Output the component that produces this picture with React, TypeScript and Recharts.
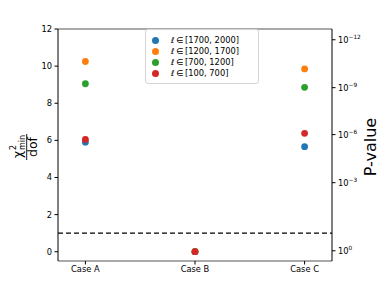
import React from 'react';
import { ScatterChart, Scatter, XAxis, YAxis, ReferenceLine, Legend } from 'recharts';

const cases = ['Case A', 'Case B', 'Case C'];
const seriesLabels = ['[1700, 2000]', '[1200, 1700]', '[700, 1200]', '[100, 700]'];
const seriesColors = ['#1f77b4', '#ff7f0e', '#2ca02c', '#d62728'];
const ell1700to2000 = [5.9, 0, 5.66];
const ell1200to1700 = [10.25, 0, 9.85];
const ell700to1200 = [9.05, 0, 8.86];
const ell100to700 = [6.05, 0, 6.38];
const seriesValues = [ell1700to2000, ell1200to1700, ell700to1200, ell100to700];
const chiTicks = [0, 2, 4, 6, 8, 10, 12];
const pTickPositions = [0.05, 3.72, 6.31, 8.84, 11.42];
const pTickExponents = [0, -3, -6, -9, -12];
const threshold = 1;

const FONT = '"DejaVu Sans", sans-serif';
const FS = 8.3;

const series = seriesValues.map((vals) => vals.map((v, i) => ({ x: i, y: v, name: cases[i] })));

const Dot = (props: any) => {
  const { cx, cy, fill } = props;
  if (cx == null || cy == null) return null;
  return <circle cx={cx} cy={cy} r={3.4} fill={fill} />;
};

const PTick = (props: any) => {
  const { x, y, payload } = props;
  const i = pTickPositions.indexOf(payload.value);
  const exp = pTickExponents[i];
  const expText = exp === 0 ? '0' : '\u2212' + Math.abs(exp);
  return (
    <text x={x} y={y} dy="0.35em" fontSize={FS} fill="#000" fontFamily={FONT} textAnchor="start">
      <tspan>10</tspan>
      <tspan dy={-3.6} fontSize={5.8}>{expText}</tspan>
    </text>
  );
};

const YLabel = (props: any) => {
  const vb = props.viewBox || { x: 18, y: 29, width: 40, height: 232 };
  const cx = vb.x + 8.7;
  const cy = vb.y + vb.height / 2 + 2;
  return (
    <g transform={`translate(${cx},${cy}) rotate(-90)`} fontFamily={FONT} fill="#000">
      <text x={-11} y={-5} fontSize={12.5}>χ</text>
      <text x={-3} y={-10.5} fontSize={8}>2</text>
      <text x={-3} y={-2.2} fontSize={8}>min</text>
      <line x1={-13} x2={13} y1={0} y2={0} stroke="#000" strokeWidth={0.9} />
      <text x={0} y={10.5} fontSize={12.5} textAnchor="middle">dof</text>
    </g>
  );
};

const PLabel = (props: any) => {
  const vb = props.viewBox || { x: 332, y: 29, width: 40, height: 232 };
  const cx = vb.x + 38.5;
  const cy = vb.y + vb.height / 2 + 2;
  return (
    <text
      x={cx}
      y={cy}
      transform={`rotate(-90, ${cx}, ${cy})`}
      textAnchor="middle"
      dominantBaseline="central"
      fontSize={16}
      fontFamily={FONT}
      fill="#000"
    >
      P-value
    </text>
  );
};

const LegendBox = () => (
  <div
    style={{
      border: '1px solid #d4d4d4',
      borderRadius: 3,
      background: 'rgba(255,255,255,0.8)',
      padding: '4.5px 6px 4.5px 5.5px',
      fontFamily: FONT,
      fontSize: FS,
      width: 100,
      color: '#000',
    }}
  >
    {seriesLabels.map((l, i) => (
      <div key={l} style={{ display: 'flex', alignItems: 'center', height: 11, whiteSpace: 'nowrap' }}>
        <span
          style={{
            display: 'inline-block',
            width: 7,
            height: 7,
            borderRadius: '50%',
            background: seriesColors[i],
            marginRight: 12.5,
            flexShrink: 0,
          }}
        />
        <span>
          <i>ℓ</i>{'\u2009∈\u2009'}{l}
        </span>
      </div>
    ))}
  </div>
);

export default function App() {
  return (
    <div style={{ position: 'absolute', left: 0, top: 0, width: 390, height: 290, background: '#fff' }}>
      <ScatterChart width={390} height={290} margin={{ top: 29, right: 18, bottom: 9, left: 18 }}>
        <XAxis
          type="number"
          dataKey="x"
          domain={[-0.25, 2.25]}
          ticks={[0, 1, 2]}
          tickFormatter={(v: number) => cases[v]}
          allowDataOverflow
          height={20}
          axisLine={{ stroke: '#8c8c8c', strokeWidth: 1.5 }}
          tickLine={{ stroke: '#000' }}
          tickSize={3.5}
          tickMargin={2}
          tick={{ fontSize: FS, fill: '#000', fontFamily: FONT }}
        />
        <YAxis
          yAxisId="left"
          type="number"
          dataKey="y"
          domain={[-0.5, 12]}
          ticks={chiTicks}
          allowDataOverflow
          width={40}
          axisLine={{ stroke: '#000', strokeWidth: 1 }}
          tickLine={{ stroke: '#000' }}
          tickSize={3.5}
          tickMargin={2.5}
          tick={{ fontSize: FS, fill: '#000', fontFamily: FONT }}
          label={{ content: YLabel }}
        />
        <YAxis
          yAxisId="right"
          orientation="right"
          type="number"
          domain={[-0.5, 12]}
          ticks={pTickPositions}
          allowDataOverflow
          width={40}
          axisLine={{ stroke: '#000', strokeWidth: 1 }}
          tickLine={{ stroke: '#000' }}
          tickSize={3.5}
          tickMargin={2.5}
          tick={<PTick />}
          label={{ content: PLabel }}
        />
        <ReferenceLine yAxisId="left" y={12} stroke="#8c8c8c" strokeWidth={1.5} />
        <ReferenceLine yAxisId="left" y={threshold} stroke="#000" strokeWidth={1.2} strokeDasharray="5 3" />
        {series.map((data, i) => (
          <Scatter
            key={seriesLabels[i]}
            yAxisId="left"
            data={data}
            fill={seriesColors[i]}
            shape={<Dot />}
            isAnimationActive={false}
          />
        ))}
        <Legend
          layout="vertical"
          align="center"
          verticalAlign="middle"
          content={<LegendBox />}
          wrapperStyle={{ position: 'absolute', left: 145, top: 29, width: 'auto', height: 'auto' }}
        />
      </ScatterChart>
    </div>
  );
}
